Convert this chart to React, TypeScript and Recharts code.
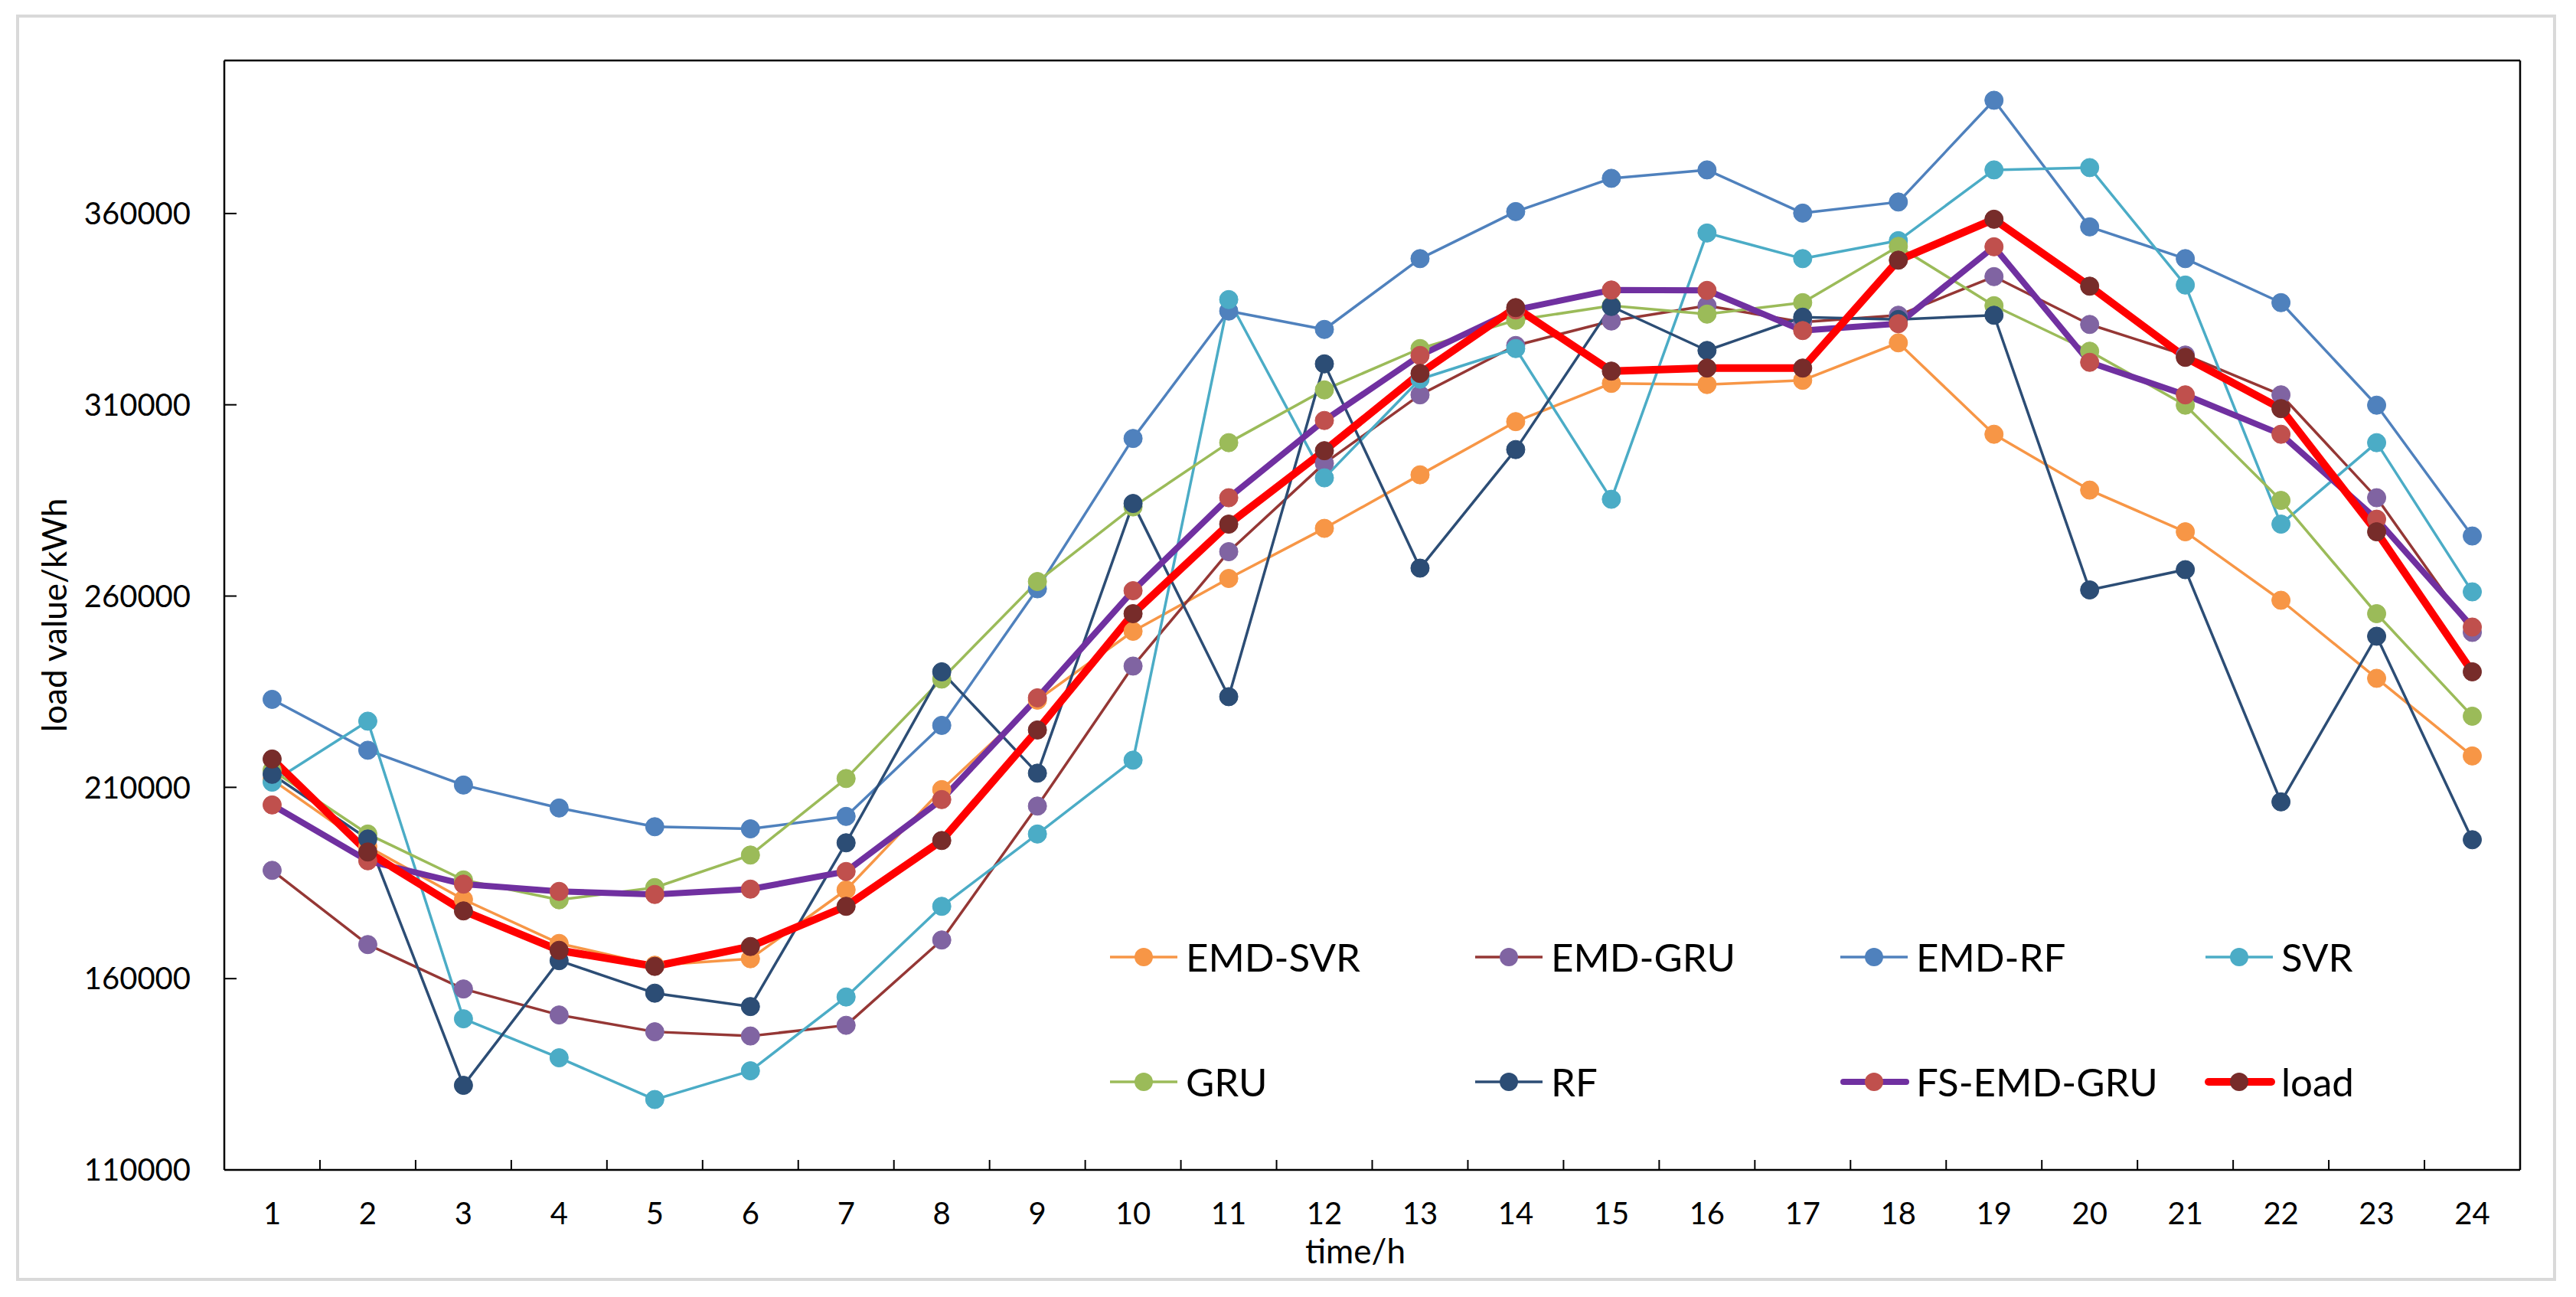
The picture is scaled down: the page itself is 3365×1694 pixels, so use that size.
import { LineChart, Line, XAxis, YAxis, Legend, ReferenceLine } from 'recharts'

const hours = [1, 2, 3, 4, 5, 6, 7, 8, 9, 10, 11, 12, 13, 14, 15, 16, 17, 18, 19, 20, 21, 22, 23, 24]

const emdSvr = [212000, 194500, 180700, 169200, 163500, 165200, 183200, 209400, 232800, 250800, 264600, 277700, 291700, 305600, 315600, 315300, 316400, 326200, 302300, 287700, 276800, 258900, 238500, 218200]
const emdGru = [188300, 168900, 157300, 150500, 146100, 145000, 147800, 170100, 205100, 241700, 271600, 294700, 312600, 325500, 331900, 335900, 331600, 333400, 343500, 331000, 323000, 312600, 285700, 250500]
const emdRf = [233000, 219700, 210600, 204600, 199700, 199150, 202400, 226200, 261900, 301200, 334500, 329700, 348200, 360500, 369200, 371400, 360100, 363000, 389600, 356500, 348200, 336700, 309900, 275700]
const svr = [211350, 227300, 149500, 139300, 128400, 135900, 155200, 178900, 197800, 217100, 337500, 290900, 316700, 324700, 285300, 354900, 348200, 352900, 371400, 372000, 341300, 278800, 300100, 261100]
const gru = [214500, 197800, 185800, 180600, 183800, 192300, 212300, 238300, 263800, 283300, 300100, 313900, 324700, 332100, 335900, 333700, 336700, 351400, 335900, 324000, 309900, 285000, 255400, 228600]
const rf = [213400, 196500, 132100, 164700, 156200, 152700, 195500, 240200, 213700, 284200, 233700, 320700, 267300, 298300, 335700, 324200, 332900, 332300, 333400, 261600, 266900, 206200, 249500, 196300]
const fsEmdGru = [205400, 190800, 184700, 182800, 182000, 183400, 188000, 206800, 233400, 261400, 285700, 305900, 322900, 334800, 340000, 339900, 329400, 331200, 351300, 321100, 312600, 302300, 280100, 251900]
const load = [217400, 193100, 177700, 167400, 163200, 168400, 178900, 196100, 225000, 255400, 278800, 298000, 318200, 335400, 318800, 319600, 319600, 347800, 358500, 341000, 322400, 309000, 276800, 240200]

const yTicks = [110000, 160000, 210000, 260000, 310000, 360000]
const Y_MIN = 110000
const Y_MAX = 400000

const FONT = 'Lato, "Noto Sans", sans-serif'

const series = [
  { name: 'EMD-SVR', values: emdSvr, line: '#F79646', marker: '#F79646', width: 3.5 },
  { name: 'EMD-GRU', values: emdGru, line: '#953735', marker: '#8064A2', width: 3.5 },
  { name: 'EMD-RF', values: emdRf, line: '#4F81BD', marker: '#4F81BD', width: 3.5 },
  { name: 'SVR', values: svr, line: '#4BACC6', marker: '#4BACC6', width: 3.5 },
  { name: 'GRU', values: gru, line: '#9BBB59', marker: '#9BBB59', width: 3.5 },
  { name: 'RF', values: rf, line: '#2C4D75', marker: '#2C4D75', width: 3.5 },
  { name: 'FS-EMD-GRU', values: fsEmdGru, line: '#7030A0', marker: '#C0504D', width: 8 },
  { name: 'load', values: load, line: '#FF0000', marker: '#772C2A', width: 10 },
]

const chartData = hours.map((h, i) => {
  const row: Record<string, number> = { hour: h }
  series.forEach(s => { row[s.name] = s.values[i] })
  return row
})

// labels on the hours, small tick marks between the categories (Excel category axis)
const xTicks = [...hours, ...hours.slice(1).map(h => h - 0.5)].sort((a, b) => a - b)

function HourTick(props: any) {
  const { x, y, payload } = props
  const v = payload.value
  if (!Number.isInteger(v)) {
    return <line x1={x} x2={x} y1={y} y2={y - 13} stroke="#000" strokeWidth={2} />
  }
  return (
    <text x={x} y={y + 71} textAnchor="middle" fontFamily={FONT} fontSize={40} fill="#000">
      {v}
    </text>
  )
}

function LegendGrid() {
  return (
    <div style={{ display: 'grid', gridTemplateColumns: 'repeat(4, 477px)', gridAutoRows: '163px' }}>
      {series.map(s => (
        <div key={s.name} style={{ display: 'flex', alignItems: 'center' }}>
          <svg width={92} height={28} style={{ flex: 'none' }}>
            <line x1={s.width > 4 ? 5 : 1} x2={s.width > 4 ? 87 : 89} y1={14} y2={14} stroke={s.line} strokeWidth={s.width} strokeLinecap={s.width > 4 ? 'round' : 'butt'} />
            <circle cx={45} cy={14} r={12} fill={s.marker} />
          </svg>
          <span style={{ marginLeft: 8, fontFamily: FONT, fontSize: 51, lineHeight: 1, color: '#000' }}>{s.name}</span>
        </div>
      ))}
    </div>
  )
}

export default function App() {
  return (
    <div style={{ position: 'relative', width: 3365, height: 1694, background: '#fff' }}>
      <style>{'body{margin:0;background:#fff}'}</style>
      <div
        style={{
          position: 'absolute', left: 21, top: 19, width: 3318, height: 1654,
          border: '4px solid #D9D9D9', boxSizing: 'border-box',
        }}
      />
      <div style={{ position: 'absolute', left: 0, top: 0 }}>
        <LineChart width={3365} height={1694} data={chartData} margin={{ top: 79, right: 73, bottom: 66, left: 93 }}>
          <XAxis
            dataKey="hour"
            type="number"
            domain={[0.5, 24.5]}
            allowDataOverflow
            ticks={xTicks}
            interval={0}
            tickSize={0}
            tickMargin={0}
            tickLine={false}
            tick={<HourTick />}
            height={100}
            axisLine={{ stroke: '#000', strokeWidth: 2.5 }}
            label={{
              content: (p: any) => {
                const vb = p.viewBox || { x: 293, y: 1528, width: 2999 }
                return (
                  <text x={vb.x + vb.width / 2 - 22} y={vb.y + 122} textAnchor="middle" fontFamily={FONT} fontSize={44} fill="#000">
                    time/h
                  </text>
                )
              },
            }}
          />
          <YAxis
            type="number"
            domain={[Y_MIN, Y_MAX]}
            allowDataOverflow
            ticks={yTicks}
            interval={0}
            width={200}
            tickSize={-16}
            tickMargin={60}
            tick={{ fontSize: 40, fill: '#000', fontFamily: FONT }}
            tickLine={{ stroke: '#000', strokeWidth: 2 }}
            axisLine={{ stroke: '#000', strokeWidth: 2.5 }}
            label={{
              content: (p: any) => {
                const vb = p.viewBox || { x: 93, y: 79, height: 1449 }
                const cx = vb.x - 23
                const cy = vb.y + vb.height / 2
                return (
                  <text x={cx} y={cy} transform={`rotate(-90 ${cx} ${cy})`} textAnchor="middle" dominantBaseline="central" fontFamily={FONT} fontSize={44} fill="#000">
                    load value/kWh
                  </text>
                )
              },
            }}
          />
          <ReferenceLine y={Y_MAX} stroke="#000" strokeWidth={2.5} />
          <ReferenceLine x={24.5} stroke="#000" strokeWidth={2.5} />
          <Legend
            layout="horizontal"
            verticalAlign="middle"
            align="center"
            wrapperStyle={{ left: 1449, top: 1168, width: 1920 }}
            content={() => <LegendGrid />}
          />
          {series.map(s => (
            <Line
              key={s.name}
              type="linear"
              dataKey={s.name}
              stroke={s.line}
              strokeWidth={s.width}
              strokeLinejoin="round"
              dot={{ r: 12, fill: s.marker, stroke: s.marker, strokeWidth: 1 }}
              activeDot={false}
              isAnimationActive={false}
            />
          ))}
        </LineChart>
      </div>
    </div>
  )
}
